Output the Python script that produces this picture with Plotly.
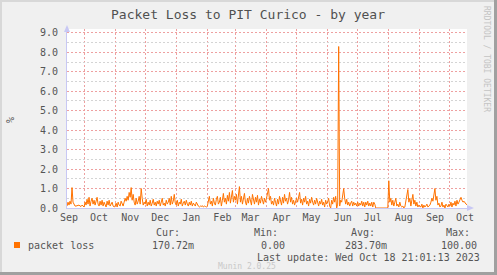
import pandas as pd
import plotly.graph_objects as go

# ---- data (daily averages, % packet loss) ----
start_date = "2022-09-14"
sep22 = [0.1,0.3,0.15,0.35,0.2,1.05,0.3,0.2,0.1,0.1,0.12,0.1,0.15,0.1,0.08,0.15,0.1]
oct22 = [0.05,0.3,0.15,0.45,0.2,0.55,0.1,0.35,0.5,0.2,0.4,0.15,0.3,0.55,0.2,0.1,0.35,0.15,0.4,0.1,0.3,0.2,0.05,0.35,0.15,0.4,0.1,0.2,0.3,0.1,0.05]
nov22 = [0.1,0.25,0.05,0.3,0.15,0.1,0.35,0.2,0.1,0.3,0.5,0.35,0.6,0.4,0.8,0.55,1.05,0.4,0.7,0.3,0.15,0.5,0.2,0.35,0.6,0.2,1.0,0.5,0.15,0.3]
dec22 = [0.2,0.45,0.1,0.3,0.15,0.4,0.1,0.25,0.45,0.15,0.3,0.1,0.35,0.2,0.4,0.1,0.3,0.5,0.15,0.25,0.1,0.4,0.2,0.3,0.5,0.15,0.6,0.2,0.35,0.7,0.25]
jan23 = [0.15,0.4,0.1,0.3,0.2,0.45,0.1,0.25,0.35,0.15,0.4,0.2,0.1,0.3,0.15,0.35,0.1,0.25,0.2,0.1,0.3,0.15,0.1,0.05,0.1,0.08,0.12,0.05,0.1,0.08,0.05]
feb23 = [0.1,0.4,0.6,0.2,0.35,0.1,0.5,0.25,0.15,0.45,0.6,0.2,0.3,0.55,0.1,0.4,0.75,0.3,0.5,0.2,0.65,0.35,0.8,0.25,0.5,0.9,0.3,0.6]
mar23 = [0.4,0.7,0.2,0.55,1.1,0.3,0.6,0.2,0.45,0.75,0.3,0.15,0.5,0.25,0.6,0.35,0.15,0.7,0.4,0.2,0.55,0.3,0.65,0.15,0.45,0.25,0.6,0.35,0.2,0.5,0.3]
apr23 = [0.5,0.85,1.0,0.4,0.6,0.2,0.35,0.15,0.5,0.3,0.1,0.45,0.2,0.6,0.35,0.15,0.55,0.25,0.7,0.35,0.5,0.2,0.4,0.8,0.3,0.55,0.2,0.4,0.15,0.35]
may23 = [0.5,0.3,0.6,0.8,0.25,0.45,0.15,0.5,0.3,0.6,0.2,0.35,0.1,0.45,0.25,0.55,0.3,0.15,0.4,0.2,0.5,0.3,0.1,0.35,0.2,0.45,0.15,0.3,0.05,0.4,0.2]
jun23 = [0.3,0.5,0.1,0.0,0.4,0.2,0.55,0.3,0.6,0.0,0.2,8.3,0.1,0.4,0.3,0.7,1.0,0.5,0.2,0.45,0.15,0.3,0.1,0.25,0.35,0.1,0.3,0.15,0.25,0.1]
jul23 = [0.3,0.1,0.25,0.15,0.35,0.1,0.3,0.05,0.3,0.15,0.35,0.1,0.25,0.1,0.3,0.05,0.3,0.2,0.0,0.0,0.0,0.0,0.0,0.0,0.0,0.0,0.0,0.0,0.0,0.0,0.0]
aug23 = [1.4,0.3,0.5,0.15,0.4,0.1,0.3,0.5,0.1,0.2,0.05,0.3,0.1,0.05,0.1,0.0,0.05,0.3,0.6,0.95,0.3,0.5,0.1,0.35,0.7,0.2,0.4,0.1,0.3,0.05,0.15]
sep23 = [0.1,0.05,0.2,0.0,0.15,0.05,0.1,0.2,0.05,0.1,0.15,0.3,0.5,0.35,0.8,1.0,0.4,0.6,0.15,0.25,0.05,0.1,0.3,0.05,0.15,0.0,0.2,0.1,0.05,0.2]
oct23 = [0.1,0.3,0.05,0.25,0.15,0.35,0.1,0.4,0.2,0.3,0.45,0.55,0.4,0.3,0.35,0.25,0.2,0.17]

month_labels = ["Sep","Oct","Nov","Dec","Jan","Feb","Mar","Apr","May","Jun","Jul","Aug","Sep","Oct"]
month_label_dates = ["2022-09-16","2022-10-16","2022-11-16","2022-12-16","2023-01-16","2023-02-16",
                     "2023-03-16","2023-04-16","2023-05-16","2023-06-16","2023-07-16","2023-08-16",
                     "2023-09-16","2023-10-16"]
month_starts = ["2022-10-01","2022-11-01","2022-12-01","2023-01-01","2023-02-01","2023-03-01",
                "2023-04-01","2023-05-01","2023-06-01","2023-07-01","2023-08-01","2023-09-01","2023-10-01"]
y_ticks = [0,1,2,3,4,5,6,7,8,9]

series_name = "packet loss"
stat_heads = ["Cur:", "Min:", "Avg:", "Max:"]
stat_vals = ["170.72m", "0.00", "283.70m", "100.00"]

values = sep22+oct22+nov22+dec22+jan23+feb23+mar23+apr23+may23+jun23+jul23+aug23+sep23+oct23
dates = pd.date_range(start_date, periods=len(values), freq="D")

# ---- layout helpers (pixel geometry) ----
W, H = 497, 275
PL, PR, PT, PB = 67, 467, 29, 208
def fx(px): return (px - PL) / (PR - PL)
def fy(py): return (PB - py) / (PB - PT)

FONT = "DejaVu Sans Mono"
LINE = "#ff7200"
AXIS = "#c8c8f4"
MGRID = "#eea0a0"
GRID = "#d4d4d4"

fig = go.Figure()
fig.add_trace(go.Scatter(x=dates, y=values, mode="lines",
                         line=dict(color=LINE, width=1), hoverinfo="skip"))

fig.update_layout(
    width=W, height=H,
    margin=dict(l=PL, r=W-PR, t=PT, b=H-PB, pad=0),
    paper_bgcolor="#f0f0f0", plot_bgcolor="#ffffff",
    showlegend=False,
    font=dict(family=FONT, size=10, color="#555555"),
    title=dict(text="Packet Loss to PIT Curico - by year", x=248/W, xanchor="center",
               y=1-14/H, yanchor="middle", xref="container", yref="container",
               font=dict(family=FONT, size=13, color="#505050")),
)
fig.update_xaxes(
    range=[dates[0], dates[-1]],
    tickmode="array", tickvals=month_label_dates, ticktext=month_labels,
    showgrid=False, zeroline=False,
    showline=True, linecolor=AXIS, linewidth=1,
    ticks="", ticklabelstandoff=0,
    tickfont=dict(family=FONT, size=10, color="#555555"),
    minor=dict(tickmode="array", tickvals=month_starts, showgrid=True,
               gridcolor=MGRID, griddash="2px,2px", gridwidth=1, ticks=""),
)
fig.update_yaxes(
    range=[0, 9.2],
    tickmode="array", tickvals=y_ticks, tickformat=".1f",
    showgrid=True, gridcolor=MGRID, griddash="2px,2px", gridwidth=1,
    zeroline=False, showline=True, linecolor=AXIS, linewidth=1,
    ticks="", ticklabelstandoff=6,
    tickfont=dict(family=FONT, size=10, color="#555555"),
    minor=dict(dtick=0.5, tick0=0.5, showgrid=True, gridcolor=GRID,
               griddash="2px,2px", gridwidth=1, ticks=""),
)

shapes = []
# axis arrows
shapes.append(dict(type="path", xref="paper", yref="paper", layer="above",
                   path=f"M {fx(64)} {fy(32)} L {fx(70)} {fy(32)} L {fx(67)} {fy(25)} Z",
                   fillcolor=AXIS, line=dict(width=0)))
shapes.append(dict(type="path", xref="paper", yref="paper", layer="above",
                   path=f"M {fx(467)} {fy(205)} L {fx(467)} {fy(211)} L {fx(474)} {fy(208)} Z",
                   fillcolor=AXIS, line=dict(width=0)))
# frame (3D border)
shapes.append(dict(type="rect", xref="paper", yref="paper", layer="above",
                   x0=fx(0), x1=fx(2), y0=fy(0), y1=fy(H), fillcolor="#d8d8d8", line=dict(width=0)))
shapes.append(dict(type="rect", xref="paper", yref="paper", layer="above",
                   x0=fx(0), x1=fx(W), y0=fy(0), y1=fy(2), fillcolor="#d8d8d8", line=dict(width=0)))
shapes.append(dict(type="rect", xref="paper", yref="paper", layer="above",
                   x0=fx(W-3), x1=fx(W), y0=fy(0), y1=fy(H), fillcolor="#a0a0a0", line=dict(width=0)))
shapes.append(dict(type="rect", xref="paper", yref="paper", layer="above",
                   x0=fx(0), x1=fx(W), y0=fy(H-3), y1=fy(H), fillcolor="#a0a0a0", line=dict(width=0)))
# legend swatch
shapes.append(dict(type="rect", xref="paper", yref="paper", layer="above",
                   x0=fx(14), x1=fx(20), y0=fy(242), y1=fy(248), fillcolor=LINE, line=dict(width=0)))
fig.update_layout(shapes=shapes)

def ann(text, px, py, xanchor="center", size=10, color="#555555", angle=0):
    fig.add_annotation(text=text, x=fx(px), y=fy(py), xref="paper", yref="paper",
                       xanchor=xanchor, yanchor="middle", showarrow=False, textangle=angle,
                       font=dict(family=FONT, size=size, color=color))

ann("%", 10, 120, angle=-90)
ann("RRDTOOL / TOBI OETIKER", 487, 59, size=8, color="#c4c4c4", angle=90)
ann(series_name, 26, 245, xanchor="left")
head_x = [168, 266, 363, 458]
val_x = [173, 273, 366, 459]
for h, v, hx, vx in zip(stat_heads, stat_vals, head_x, val_x):
    ann(h, hx, 233)
    ann(v, vx, 245)
ann("Last update: Wed Oct 18 21:01:13 2023", 482, 257, xanchor="right")
ann("Munin 2.0.25", 247, 266, size=8, color="#c8c8c8")

fig.write_html("out.html")
